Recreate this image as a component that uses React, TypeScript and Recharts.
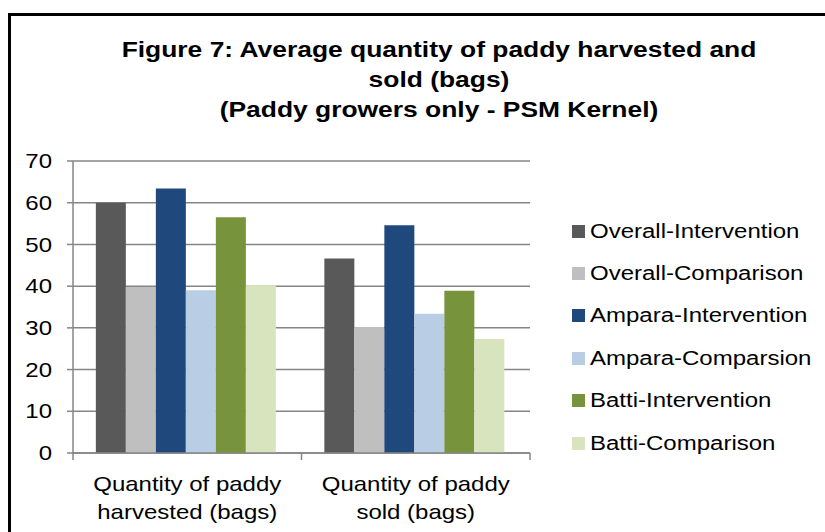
import React from 'react';
import {
  BarChart,
  Bar,
  XAxis,
  YAxis,
  CartesianGrid,
  Legend,
} from 'recharts';

const FONT = '"Liberation Sans", Arial, sans-serif';
// the source picture is stretched sideways, so text is widened to match
const SX = 1.2;

const categories = ['Quantity of paddy harvested (bags)', 'Quantity of paddy sold (bags)'];
const categoryLines = [
  ['Quantity of paddy', 'harvested (bags)'],
  ['Quantity of paddy', 'sold (bags)'],
];

const seriesNames = [
  'Overall-Intervention',
  'Overall-Comparison',
  'Ampara-Intervention',
  'Ampara-Comparsion',
  'Batti-Intervention',
  'Batti-Comparison',
];

const overallIntervention = [60.0, 46.6];
const overallComparison = [39.8, 30.2];
const amparaIntervention = [63.4, 54.6];
const amparaComparison = [39.0, 33.4];
const battiIntervention = [56.5, 38.9];
const battiComparison = [40.2, 27.3];

const yTicks = [0, 10, 20, 30, 40, 50, 60, 70];

const colors = ['#595959', '#BFBFBF', '#1F497D', '#B9CDE5', '#77933C', '#D7E4BD'];

const seriesValues = [
  overallIntervention,
  overallComparison,
  amparaIntervention,
  amparaComparison,
  battiIntervention,
  battiComparison,
];

const data = categories.map((name, i) => {
  const row: Record<string, string | number> = { name };
  seriesNames.forEach((s, j) => {
    row[s] = seriesValues[j][i];
  });
  return row;
});

const axisGray = '#868686';

function CategoryTick(props: any) {
  const { x, y, payload, index } = props;
  const half = payload && payload.offset ? payload.offset : 114.25;
  const i = payload.index ?? index;
  const lines = categoryLines[i] || [String(payload.value)];
  return (
    <g>
      <line x1={x - half} y1={y} x2={x - half} y2={y + 7} stroke={axisGray} strokeWidth={1.5} />
      {i === categories.length - 1 && (
        <line x1={x + half} y1={y} x2={x + half} y2={y + 7} stroke={axisGray} strokeWidth={1.5} />
      )}
      {lines.map((l, k) => (
        <text
          key={k}
          transform={`translate(${x},${y + 38 + k * 28}) scale(${SX},1)`}
          textAnchor="middle"
          fill="#000"
          fontSize={20}
          fontFamily={FONT}
        >
          {l}
        </text>
      ))}
    </g>
  );
}

function ValueTick(props: any) {
  const { x, y, payload } = props;
  return (
    <text
      transform={`translate(${x},${y}) scale(${SX},1)`}
      textAnchor="end"
      dy="0.36em"
      fill="#000"
      fontSize={20}
      fontFamily={FONT}
    >
      {payload.value}
    </text>
  );
}

function LegendContent(props: any) {
  const fromPayload =
    props.payload && props.payload.length
      ? props.payload.map((p: any) => ({ name: p.value, color: p.color }))
      : seriesNames.map((s, i) => ({ name: s, color: colors[i] }));
  // keep the series order, not alphabetical
  const items = [...fromPayload].sort(
    (a: any, b: any) => seriesNames.indexOf(a.name) - seriesNames.indexOf(b.name),
  );
  return (
    <div style={{ fontFamily: FONT, fontSize: 20, color: '#000' }}>
      {items.map((it: any) => (
        <div key={it.name} style={{ display: 'flex', alignItems: 'center', height: 42.4 }}>
          <span
            style={{
              display: 'inline-block',
              width: 13,
              height: 13,
              background: it.color,
              marginRight: 5,
            }}
          />
          <span
            style={{
              display: 'inline-block',
              whiteSpace: 'nowrap',
              transform: `scaleX(${SX})`,
              transformOrigin: 'left center',
            }}
          >
            {it.name}
          </span>
        </div>
      ))}
    </div>
  );
}

export default function App() {
  return (
    <div
      style={{
        position: 'absolute',
        left: 0,
        top: 0,
        width: 825,
        height: 532,
        background: '#fff',
        overflow: 'hidden',
      }}
    >
      <div
        style={{
          position: 'absolute',
          left: 8,
          top: 13,
          width: 840,
          height: 540,
          borderLeft: '3px solid #000',
          borderTop: '3px solid #000',
        }}
      />
      <div
        style={{
          position: 'absolute',
          left: 39,
          top: 35,
          width: 800,
          textAlign: 'center',
          fontFamily: FONT,
          fontWeight: 'bold',
          fontSize: 22,
          lineHeight: '30px',
          color: '#000',
          transform: `scaleX(${SX})`,
          transformOrigin: 'center',
        }}
      >
        Figure 7: Average quantity of paddy harvested and
        <br />
        sold (bags)
        <br />
        (Paddy growers only - PSM Kernel)
      </div>
      <div style={{ position: 'absolute', left: 0, top: 0 }}>
        <BarChart
          width={825}
          height={532}
          data={data}
          margin={{ top: 161, right: 295, left: 13, bottom: 19 }}
          barCategoryGap="10%"
          barGap={0}
          style={{ fontFamily: FONT }}
        >
          <CartesianGrid horizontal vertical={false} stroke={axisGray} strokeWidth={1.5} />
          <XAxis
            dataKey="name"
            height={60}
            axisLine={{ stroke: axisGray, strokeWidth: 1.5 }}
            tickLine={false}
            tickSize={0}
            tickMargin={0}
            tick={<CategoryTick />}
            interval={0}
          />
          <YAxis
            width={60}
            domain={[0, 70]}
            ticks={yTicks}
            interval={0}
            axisLine={{ stroke: axisGray, strokeWidth: 1.5 }}
            tickLine={{ stroke: axisGray, strokeWidth: 1.5 }}
            tickSize={6}
            tickMargin={15}
            tick={<ValueTick />}
          />
          <Legend
            layout="vertical"
            align="center"
            verticalAlign="middle"
            content={<LegendContent />}
            wrapperStyle={{ position: 'absolute', left: 572, top: 210, width: 250 }}
          />
          {seriesNames.map((s, i) => (
            <Bar key={s} dataKey={s} name={s} fill={colors[i]} isAnimationActive={false} />
          ))}
        </BarChart>
      </div>
    </div>
  );
}
